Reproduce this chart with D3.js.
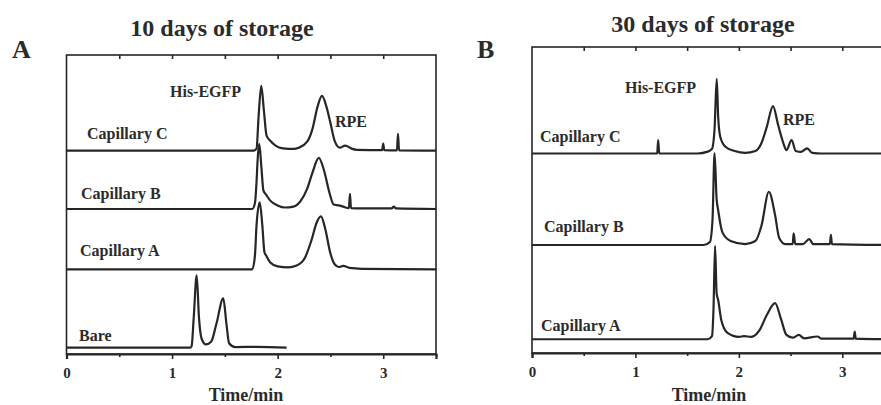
<!DOCTYPE html>
<html><head><meta charset="utf-8">
<script src="https://cdn.jsdelivr.net/npm/d3@7"></script>
<style>
html,body{margin:0;padding:0;background:#fff;}
svg{display:block;}
text{font-family:"Liberation Serif","Times New Roman",serif;font-weight:bold;fill:#2b2b2b;}
</style></head>
<body>
<svg id="chart" width="881" height="405"></svg>
<script>
// ---------- DATA ----------
const xTicksMajor = [0, 1, 2, 3];
const xTicksMinor = [0.5, 1.5, 2.5, 3.5];
const xTicksTop = [0.5, 1, 1.5, 2, 2.5, 3];

const titleA = "10 days of storage";
const titleB = "30 days of storage";
const xLabel = "Time/min";

// Panel A (10 days) traces: [time(min), signal above own baseline]
const a_capC = [[0,0],[1.77,0],[1.80,0.7],[1.82,11.7],[1.845,21.7],[1.87,13.3],[1.895,5],[1.93,3.3],[1.98,1.7],[2.05,0.8],[2.15,0.6],[2.2,1],[2.28,3],[2.33,7.3],[2.38,15],[2.42,18.3],[2.46,15],[2.5,9.3],[2.54,3.3],[2.59,1],[2.64,1.7],[2.7,0.7],[2.75,0.3],[2.99,0.2],[3.0,2.4],[3.01,0.2],[3.13,0.1],[3.14,5.6],[3.15,0.1],[3.5,0]];
const a_capB = [[0,0],[1.76,0],[1.785,2],[1.80,9],[1.81,16.2],[1.826,21.8],[1.845,14.5],[1.865,6.2],[1.89,4.8],[1.93,2.8],[2.0,1.2],[2.07,0.5],[2.15,0.8],[2.22,2.8],[2.28,6.8],[2.33,12.2],[2.39,17.1],[2.44,12.8],[2.49,5.5],[2.53,1.5],[2.58,1.2],[2.62,0.8],[2.675,0.3],[2.685,5.1],[2.695,0.3],[2.8,0.2],[3.08,0.2],[3.1,0.8],[3.12,0.2],[3.5,0]];
const a_capA = [[0,0],[1.76,0],[1.785,4.7],[1.80,14.7],[1.83,22.4],[1.855,14.7],[1.875,5.7],[1.89,4.7],[1.93,2.3],[2.0,1],[2.1,0.7],[2.18,1.3],[2.26,4],[2.32,9.7],[2.37,15.7],[2.41,17.7],[2.45,13.7],[2.5,5.3],[2.54,1.7],[2.58,0.8],[2.62,1.2],[2.68,0.5],[2.8,0.2],[3.5,0]];
const a_bare = [[0,0],[1.17,0],[1.185,0.5],[1.205,10],[1.233,24.2],[1.255,10],[1.28,3],[1.32,1.1],[1.37,2],[1.42,8],[1.485,16.5],[1.515,8],[1.54,1.5],[1.6,0.2],[1.8,0.3],[2.085,0]];
const labelsA = ["Capillary C", "Capillary B", "Capillary A", "Bare"];
const offsetsA = [68, 48.5, 28.3, 2.1];

// Panel B (30 days) traces
const b_capC = [[0,0],[1.21,0],[1.22,4.4],[1.23,0],[1.6,0],[1.7,0.6],[1.74,1.5],[1.765,8],[1.786,24.4],[1.80,12],[1.82,5.5],[1.87,2.2],[1.96,0.8],[2.06,0.2],[2.16,0.8],[2.22,3.5],[2.27,8.7],[2.33,15.5],[2.38,9.3],[2.43,3.4],[2.46,1.1],[2.51,4.4],[2.55,0.8],[2.6,0.5],[2.66,1.7],[2.71,0.2],[2.8,0],[3.5,0]];
const b_capB = [[0,0],[1.66,0],[1.72,1],[1.745,8],[1.765,30],[1.785,15],[1.80,11.4],[1.84,4.2],[1.92,1.3],[2.06,0.3],[2.16,1.3],[2.22,6.5],[2.29,17.4],[2.35,9.8],[2.39,2.3],[2.45,0.3],[2.52,0.3],[2.53,3.8],[2.545,0.3],[2.62,0.3],[2.68,1.9],[2.72,0.3],[2.88,0.3],[2.89,3.3],[2.90,0.3],[3.5,0]];
const b_capA = [[0,0],[1.7,0],[1.74,1],[1.755,10],[1.77,30.5],[1.785,15],[1.80,12.8],[1.83,6.3],[1.89,2.1],[2.0,0.8],[2.05,1],[2.12,0.8],[2.2,3],[2.27,7.9],[2.35,11.8],[2.41,6.3],[2.46,1.4],[2.52,0.5],[2.58,1.4],[2.63,0.3],[2.76,0.9],[2.8,0.2],[3.11,0.2],[3.12,2.5],[3.13,0.2],[3.5,0]];
const labelsB = ["Capillary C", "Capillary B", "Capillary A"];
const offsetsB = [65.2, 35.3, 4.5];

// ---------- DRAW ----------
const svg = d3.select("#chart");
const ink = "#262626";

function panel(cfg) {
  const x = d3.scaleLinear().domain([0, 3.5]).range(cfg.xr);
  const y = d3.scaleLinear().domain([0, 100]).range(cfg.yr);
  const g = svg.append("g");

  // frame
  g.append("rect")
    .attr("x", x(0)).attr("y", y(100))
    .attr("width", x(3.5) - x(0)).attr("height", y(0) - y(100))
    .attr("fill", "none").attr("stroke", ink).attr("stroke-width", 1.6);

  // bottom axis major
  const axB = g.append("g").attr("transform", `translate(0,${y(0)})`)
    .call(d3.axisBottom(x).tickValues(xTicksMajor).tickSize(5).tickPadding(8).tickFormat(d3.format("d")));
  axB.select(".domain").attr("stroke", ink).attr("stroke-width", 2.2);
  axB.selectAll(".tick line").attr("stroke", ink).attr("stroke-width", 1.6);
  axB.selectAll("text").attr("font-size", 15).attr("font-family", "Liberation Serif").attr("font-weight", "bold").attr("fill", "#2b2b2b");
  // bottom axis minor
  const axBm = g.append("g").attr("transform", `translate(0,${y(0)})`)
    .call(d3.axisBottom(x).tickValues(xTicksMinor).tickSize(3).tickFormat(""));
  axBm.select(".domain").remove();
  axBm.selectAll(".tick line").attr("stroke", ink).attr("stroke-width", 1.6);
  // top axis (inward ticks)
  const axT = g.append("g").attr("transform", `translate(0,${y(100)})`)
    .call(d3.axisTop(x).tickValues(xTicksTop).tickSize(-4).tickFormat(""));
  axT.select(".domain").remove();
  axT.selectAll(".tick line").attr("stroke", ink).attr("stroke-width", 1.6);

  // traces
  const line = d3.line().curve(d3.curveMonotoneX);
  cfg.traces.forEach((tr, i) => {
    const off = cfg.offsets[i];
    g.append("path")
      .attr("d", line(tr.map(p => [x(p[0]), y(p[1] + off)])))
      .attr("fill", "none").attr("stroke", ink).attr("stroke-width", 2.2)
      .attr("stroke-linejoin", "round");
  });

  // trace labels
  cfg.labelPos.forEach((lp, i) => {
    g.append("text").attr("x", lp[0]).attr("y", lp[1])
      .attr("font-size", 16).text(cfg.labels[i]);
  });
  g.append("text").attr("x", cfg.his[0]).attr("y", cfg.his[1]).attr("font-size", 16).text("His-EGFP");
  g.append("text").attr("x", cfg.rpe[0]).attr("y", cfg.rpe[1]).attr("font-size", 16).text("RPE");

  // title, letter, x label
  g.append("text").attr("x", cfg.title[0]).attr("y", cfg.title[1]).attr("text-anchor", "middle")
    .attr("font-size", 24).text(cfg.titleText);
  g.append("text").attr("x", cfg.letter[0]).attr("y", cfg.letter[1])
    .attr("font-size", 26).text(cfg.letterText);
  g.append("text").attr("x", cfg.xlab[0]).attr("y", cfg.xlab[1]).attr("text-anchor", "middle")
    .attr("font-size", 18).text(xLabel);
}

panel({
  xr: [66.5, 436], yr: [354, 55],
  traces: [a_capC, a_capB, a_capA, a_bare], offsets: offsetsA, labels: labelsA,
  labelPos: [[87, 139], [81, 199], [80, 256], [79, 341]],
  his: [170, 97], rpe: [335, 127],
  title: [222, 36], titleText: titleA,
  letter: [12, 58], letterText: "A",
  xlab: [246, 401]
});

panel({
  xr: [532, 894], yr: [353, 47],
  traces: [b_capC, b_capB, b_capA], offsets: offsetsB, labels: labelsB,
  labelPos: [[540, 142], [544, 232], [541, 331]],
  his: [625, 93], rpe: [783, 125],
  title: [703, 32], titleText: titleB,
  letter: [477, 58], letterText: "B",
  xlab: [709, 401]
});
</script>
</body></html>
